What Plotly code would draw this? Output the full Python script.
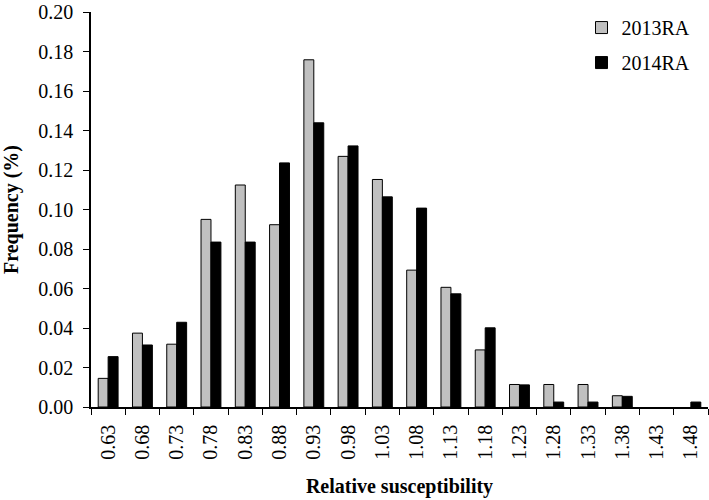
import plotly.graph_objects as go

categories = ["0.63", "0.68", "0.73", "0.78", "0.83", "0.88", "0.93", "0.98", "1.03",
              "1.08", "1.13", "1.18", "1.23", "1.28", "1.33", "1.38", "1.43", "1.48"]
ra2013 = [0.0145, 0.0374, 0.0318, 0.0950, 0.1124, 0.0923, 0.1758, 0.1269, 0.1152,
          0.0693, 0.0606, 0.0289, 0.0114, 0.0114, 0.0114, 0.0057, 0.0, 0.0]
ra2014 = [0.0255, 0.0314, 0.0429, 0.0835, 0.0835, 0.1236, 0.1439, 0.1322, 0.1064,
          0.1007, 0.0573, 0.0401, 0.0112, 0.0025, 0.0025, 0.0054, 0.0, 0.0025]

font_family = "Liberation Serif, Times New Roman, serif"


def outline_widths(vals):
    return [0 if v == 0 else 1 for v in vals]


fig = go.Figure()
fig.add_trace(go.Bar(x=categories, y=ra2013, name="2013RA", legendgroup="a",
                     marker=dict(color="#c0c0c0",
                                 line=dict(color="black", width=outline_widths(ra2013)))))
fig.add_trace(go.Bar(x=categories, y=ra2014, name="2014RA", legendgroup="b",
                     marker=dict(color="black",
                                 line=dict(color="black", width=outline_widths(ra2014)))))

fig.update_layout(
    width=709, height=500,
    margin=dict(l=91, r=1, t=8, b=93),
    paper_bgcolor="white", plot_bgcolor="white",
    barmode="group", bargap=0.42, bargroupgap=0,
    font=dict(family=font_family, size=20, color="black"),
    showlegend=True,
    legend=dict(x=0.795, y=1.01, xanchor="left", yanchor="top",
                bgcolor="rgba(0,0,0,0)", tracegroupgap=6,
                font=dict(size=20, family=font_family)),
    xaxis=dict(
        type="category",
        tickangle=-90,
        tickson="boundaries",
        ticks="outside", ticklen=6, tickcolor="black",
        showline=True, linecolor="black", linewidth=1.5,
        showgrid=False,
        tickfont=dict(size=20),
        ticklabelstandoff=8,
        title=dict(text="<b>Relative susceptibility</b>", font=dict(size=20), standoff=20),
    ),
    yaxis=dict(
        range=[0, 0.20], dtick=0.02, tickformat=".2f",
        ticks="outside", ticklen=6, tickcolor="black",
        showline=True, linecolor="black", linewidth=1.5,
        showgrid=False, zeroline=False,
        tickfont=dict(size=20),
        ticklabelstandoff=6,
        ticklabeloverflow="allow",
        title=dict(text="<b>Frequency (%)</b>", font=dict(size=20), standoff=14),
    ),
)

fig.write_html("out.html", post_script="document.body.style.margin='0';",
               config={"displayModeBar": False})
